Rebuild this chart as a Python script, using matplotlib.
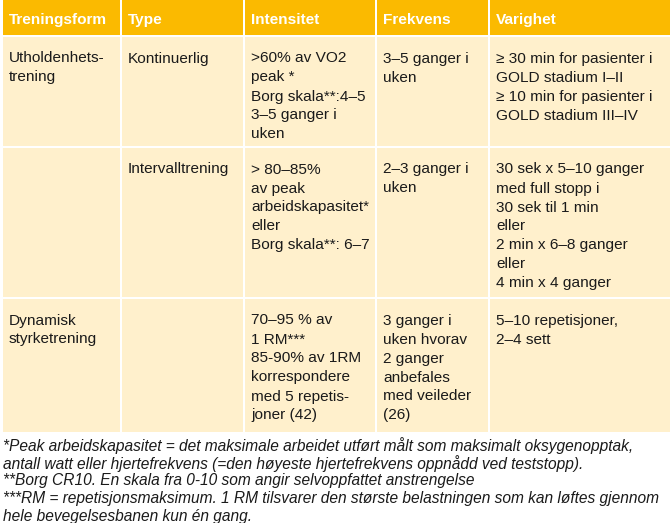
import matplotlib.pyplot as plt
from matplotlib.patches import Rectangle

# ---------------------------------
# TABLE CONTENT
# ---------------------------------

headers = ["Treningsform", "Type", "Intensitet", "Frekvens", "Varighet"]

treningsform = ["Utholdenhets-\ntrening", "", "Dynamisk\nstyrketrening"]
types = ["Kontinuerlig", "Intervalltrening", ""]
intensitet = [
    ">60% av VO2\npeak *\nBorg skala**:4–5\n3–5 ganger i\nuken",
    "> 80–85%\nav peak\narbeidskapasitet*\neller\nBorg skala**: 6–7",
    "70–95 % av\n1 RM***\n85-90% av 1RM\nkorrespondere\nmed 5 repetis-\njoner (42)",
]
frekvens = [
    "3–5 ganger i\nuken",
    "2–3 ganger i\nuken",
    "3 ganger i\nuken hvorav\n2 ganger\nanbefales\nmed veileder\n(26)",
]
varighet = [
    "≥ 30 min for pasienter i\nGOLD stadium I–II\n≥ 10 min for pasienter i\nGOLD stadium III–IV",
    "30 sek x 5–10 ganger\nmed full stopp i\n30 sek til 1 min\neller\n2 min x 6–8 ganger\neller\n4 min x 4 ganger",
    "5–10 repetisjoner,\n2–4 sett",
]

footnotes = [
    "*Peak arbeidskapasitet = det maksimale arbeidet utført målt som maksimalt oksygenopptak,",
    "antall watt eller hjertefrekvens (=den høyeste hjertefrekvens oppnådd ved teststopp).",
    "**Borg CR10. En skala fra 0-10 som angir selvoppfattet anstrengelse",
    "***RM = repetisjonsmaksimum. 1 RM tilsvarer den største belastningen som kan løftes gjennom",
    "hele bevegelsesbanen kun én gang.",
]

# ---------------------------------
# LAYOUT (pixels)
# ---------------------------------

W, H = 672, 523
col_edges = [2, 121, 244, 376, 489, 671]
row_edges = [0, 36, 147, 298, 433]
header_color = "#FBBA00"
cell_color = "#FFF0CC"
text_color = "#1a1a1a"
font = "Liberation Sans"
body_size = 11.1
line_step = 19

fig = plt.figure(figsize=(W / 100, H / 100), dpi=100)
ax = fig.add_axes([0, 0, 1, 1])
ax.set_xlim(0, W)
ax.set_ylim(H, 0)
ax.axis("off")

# ---------------------------------
# HEADER
# ---------------------------------

for c, label in enumerate(headers):
    x0, x1 = col_edges[c] + 1, col_edges[c + 1] - 1
    ax.add_patch(Rectangle((x0, row_edges[0]), x1 - x0, row_edges[1] - row_edges[0] - 1,
                           color=header_color, lw=0))
    ax.text(x0 + 6, 20, label, color="white", fontsize=body_size, fontweight="bold",
            family=font, va="center", ha="left")

# ---------------------------------
# BODY ROWS
# ---------------------------------

columns = [treningsform, types, intensitet, frekvens, varighet]

for r in range(len(types)):
    y0, y1 = row_edges[r + 1] + 1, row_edges[r + 2] - 1
    for c, col in enumerate(columns):
        x0, x1 = col_edges[c] + 1, col_edges[c + 1] - 1
        ax.add_patch(Rectangle((x0, y0), x1 - x0, y1 - y0, color=cell_color, lw=0))
        for i, line in enumerate(col[r].split("\n")):
            ax.text(x0 + 6, y0 + 21.5 + i * line_step, line, color=text_color,
                    fontsize=body_size, family=font, va="center", ha="left")

# ---------------------------------
# FOOTNOTES
# ---------------------------------

for i, note in enumerate(footnotes):
    ax.text(3, 446 + i * 17.5, note, color=text_color, fontsize=11.2, style="italic",
            family=font, va="center", ha="left")

fig.savefig("out.png", dpi=100)
